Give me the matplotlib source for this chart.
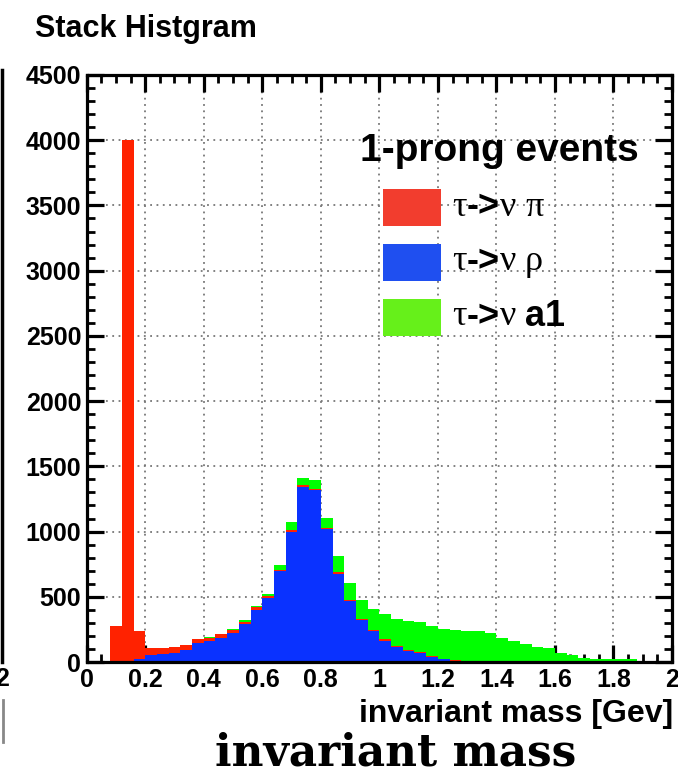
import numpy as np
import matplotlib
matplotlib.use("Agg")
import matplotlib.pyplot as plt
from matplotlib.patches import Rectangle
from matplotlib.lines import Line2D
from matplotlib.ticker import MultipleLocator, FormatStrFormatter

# 50 bins of 0.04 GeV from 0 to 2
bin_width = 0.04
bin_lo = np.arange(50) * bin_width

# tau -> nu rho (bottom of the stack)
rho = [0, 0, 0, 5, 25, 53, 61, 71, 92, 148,
       160, 186, 226, 290, 402, 494, 695, 1000, 1338, 1318,
       1020, 677, 466, 321, 239, 160, 117, 87, 72, 41,
       20, 5, 3, 0, 0, 0, 0, 0, 0, 0,
       0, 0, 0, 0, 0, 0, 0, 0, 0, 0]
# tau -> nu pi
pi = [0, 0, 277, 3995, 215, 51, 43, 46, 38, 25,
      26, 25, 18, 18, 20, 15, 12, 13, 18, 10,
      8, 13, 6, 12, 5, 13, 5, 8, 4, 4,
      3, 8, 2, 0, 0, 0, 0, 0, 0, 0,
      0, 0, 0, 0, 0, 0, 0, 0, 0, 0]
# tau -> nu a1
a1 = [0, 0, 0, 0, 0, 0, 0, 0, 0, 2,
      2, 2, 8, 13, 5, 13, 33, 58, 54, 66,
      74, 119, 136, 145, 166, 198, 206, 218, 227, 232,
      229, 231, 235, 239, 226, 186, 160, 135, 117, 104,
      66, 51, 33, 23, 25, 25, 23, 5, 0, 0]

hist_colors = ["#0a32ff", "#ff2200", "#00ff00"]
legend_colors = ["#f23d2e", "#1f4ff0", "#66f01a"]
legend_names = ["pi", "rho", "a1"]

W, H = 678, 777
fig = plt.figure(figsize=(W / 100, H / 100), dpi=100)


def fx(px):
    return px / W


def fy(py):
    return 1 - py / H


ax = fig.add_axes([fx(86.7), fy(662), fx(672) - fx(86.7), fy(75) - fy(662)])

centers = bin_lo + bin_width / 2
edges = np.append(bin_lo, 2.0)
ax.hist([centers, centers, centers], bins=edges, weights=[rho, pi, a1],
        stacked=True, histtype="stepfilled", color=hist_colors,
        linewidth=0, zorder=2)

ax.set_xlim(0, 2)
ax.set_ylim(0, 4500)
ax.xaxis.set_major_locator(MultipleLocator(0.2))
ax.xaxis.set_minor_locator(MultipleLocator(0.05))
ax.yaxis.set_major_locator(MultipleLocator(500))
ax.yaxis.set_minor_locator(MultipleLocator(100))
ax.xaxis.set_major_formatter(FormatStrFormatter("%g"))
ax.grid(True, which="major", linestyle=(0, (1, 2.5)), color="#777777",
        linewidth=1.3, zorder=1)
ax.set_axisbelow(True)

for s in ax.spines.values():
    s.set_linewidth(2.3)
    s.set_zorder(5)
ax.tick_params(which="both", direction="in", top=True, right=True,
               width=2.3, labelsize=18, pad=4)
ax.tick_params(which="major", length=12)
ax.tick_params(which="minor", length=6, width=2)
for lab in ax.get_xticklabels() + ax.get_yticklabels():
    lab.set_fontfamily("Liberation Sans")
    lab.set_fontweight("bold")

# title and axis label
fig.text(fx(35), fy(37), "Stack Histgram", family="Liberation Sans",
         weight="bold", fontsize=22, va="baseline")
fig.text(fx(673), fy(722), "invariant mass [Gev]", family="Liberation Sans",
         weight="bold", fontsize=23, ha="right", va="baseline")
fig.text(fx(396), fy(766), "invariant mass", family="DejaVu Serif",
         weight="bold", fontsize=31.5, ha="center", va="baseline")

# legend
fig.text(fx(360), fy(161), "1-prong events", family="Liberation Sans",
         weight="bold", fontsize=28, va="baseline")

renderer = fig.canvas.get_renderer()


def draw_pieces(x_px, y_px, pieces):
    x = x_px
    for txt, kw in pieces:
        t = fig.text(fx(x), fy(y_px), txt, va="center", fontsize=26, **kw)
        bb = t.get_window_extent(renderer=renderer)
        x += bb.width


sans_b = dict(family="Liberation Sans", weight="bold")
serif = dict(family="Liberation Serif")
greek = {"pi": "\u03c0", "rho": "\u03c1"}
box_tops = [189, 244, 299]
for top, col, name in zip(box_tops, legend_colors, legend_names):
    fig.patches.append(Rectangle((fx(383), fy(top + 37)), fx(58), 37 / H,
                                 transform=fig.transFigure, color=col,
                                 linewidth=0))
    pieces = [("\u03c4", serif), ("->", sans_b), ("\u03bd", serif), (" ", serif)]
    if name in greek:
        pieces.append((greek[name], serif))
    else:
        pieces.append((name, sans_b))
    draw_pieces(452, top + 18, pieces)

# edge of the neighbouring panel on the left
fig.lines.append(Line2D([fx(2), fx(2)], [fy(70), fy(662)], color="black",
                        linewidth=2.5, transform=fig.transFigure))
fig.text(fx(2), fy(679), "2", family="Liberation Sans", weight="bold",
         fontsize=18, ha="center", va="center")
fig.lines.append(Line2D([fx(3), fx(3)], [fy(700), fy(742)], color="#888888",
                        linewidth=2, transform=fig.transFigure))

fig.savefig("out.png", dpi=100)
